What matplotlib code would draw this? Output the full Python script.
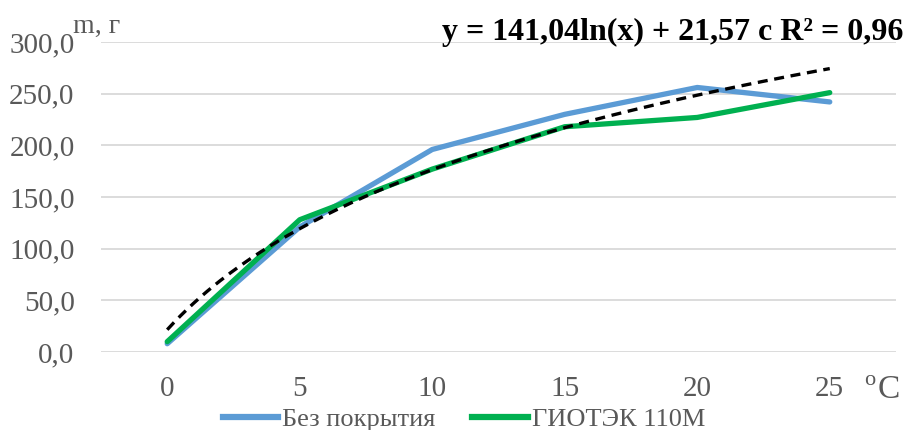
import numpy as np
import matplotlib.pyplot as plt
from matplotlib.ticker import FuncFormatter
from matplotlib.lines import Line2D

# данные
temps = ["0", "5", "10", "15", "20", "25"]
no_coating = [8, 121, 196, 230, 256, 242]
giotek = [10, 128, 177, 218, 227, 251]
trend_a = 141.04
trend_b = 21.57

plt.rcParams['font.family'] = ['Liberation Serif', 'DejaVu Serif']

fig = plt.figure(figsize=(9.08, 4.30), dpi=100)
ax = fig.add_axes([0.1112, 0.1814, 0.8756, 0.7209])

x = np.arange(len(temps))
# линия тренда (логарифмическая, x = 1..n)
xt = np.linspace(0, len(temps) - 1, 200)
ax.plot(xt, trend_a * np.log(xt + 1) + trend_b, color='black', lw=2.4,
        ls=(0, (3, 2)), zorder=4)
ax.plot(x, no_coating, color='#5B9BD5', lw=3.8, solid_capstyle='round', zorder=3)
ax.plot(x, giotek, color='#00B050', lw=3.8, solid_capstyle='round', zorder=3)

ax.set_xlim(-0.5, len(temps) - 0.5)
ax.set_ylim(0, 300)
ax.set_yticks(np.arange(0, 301, 50))
ax.yaxis.set_major_formatter(FuncFormatter(lambda v, p: f"{v:.1f}".replace('.', ',')))
ax.set_xticks(x)
ax.set_xticklabels(temps)
ax.grid(axis='y', color='#D9D9D9', lw=1.3)
ax.set_axisbelow(True)
for s in ax.spines.values():
    s.set_visible(False)
ax.tick_params(length=0, labelsize=21, labelcolor='#595959')
ax.tick_params(axis='x', pad=17)
ax.tick_params(axis='y', pad=19)

fig.text(0.080, 0.923, "m, г", fontsize=20, color='#595959', ha='left', va='baseline')
fig.text(0.952, 0.105, "о", fontsize=16, color='#595959', ha='left', va='baseline')
fig.text(0.966, 0.074, "С", fontsize=24, color='#595959', ha='left', va='baseline')
fig.text(0.995, 0.907, "y = 141,04ln(x) + 21,57 с R² = 0,96", fontsize=23,
         fontweight='bold', ha='right', va='baseline')

handles = [Line2D([], [], color='#5B9BD5', lw=4.5), Line2D([], [], color='#00B050', lw=4.5)]
fig.legend(handles, ["Без покрытия", "ГИОТЭК 110М"], loc='center',
           bbox_to_anchor=(0.511, 0.025), ncol=2, frameon=False, fontsize=19,
           labelcolor='#595959', handlelength=2.1, handletextpad=0.15,
           columnspacing=1.4, borderpad=0)

fig.savefig("out.png", dpi=100)
